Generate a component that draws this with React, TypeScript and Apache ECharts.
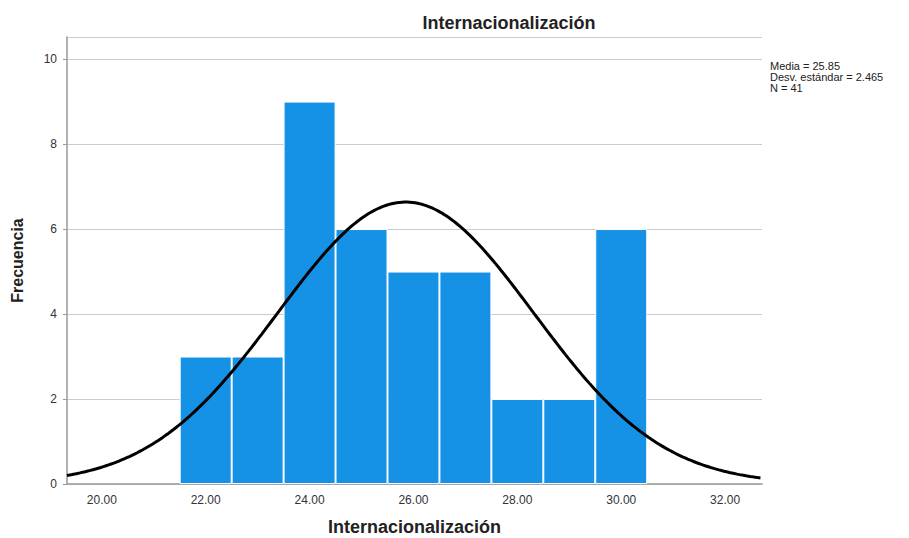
import React, { useEffect, useRef } from "react";
import * as echarts from "echarts";

const binCenters = [22, 23, 24, 25, 26, 27, 28, 29, 30];
const frequencies = [3, 3, 9, 6, 5, 5, 2, 2, 6];
const xTickValues = [20, 22, 24, 26, 28, 30, 32];
const MEAN = 25.85;
const SD = 2.465;
const N = 41;
const BIN_WIDTH = 1;
const X_MIN = 19.33;
const X_MAX = 32.71;

function normalCurve(): number[][] {
  const pts: number[][] = [];
  const k = (N * BIN_WIDTH) / (SD * Math.sqrt(2 * Math.PI));
  for (let x = X_MIN; x <= X_MAX + 1e-9; x += 0.05) {
    const z = (x - MEAN) / SD;
    pts.push([x, k * Math.exp(-0.5 * z * z)]);
  }
  return pts;
}

export default function App() {
  const ref = useRef<HTMLDivElement>(null);
  useEffect(() => {
    if (!ref.current) return;
    const chart = echarts.init(ref.current, null, { renderer: "svg" });
    chart.setOption({
      animation: false,
      backgroundColor: "#fff",
      title: {
        text: "Internacionalización",
        left: 504,
        top: 9,
        textAlign: "center",
        textStyle: { fontFamily: "Liberation Sans", fontSize: 18, fontWeight: "bold", color: "#222" },
      },
      grid: { left: 67, right: 147, top: 37, bottom: 54, containLabel: false, outerBoundsMode: "none" },
      xAxis: {
        type: "value",
        min: X_MIN,
        max: X_MAX,
        name: "Internacionalización",
        nameLocation: "middle",
        nameGap: 34,
        nameTextStyle: { fontFamily: "Liberation Sans", fontSize: 18, fontWeight: "bold", color: "#222" },
        axisLine: { show: true, lineStyle: { color: "#999", width: 1.5 } },
        axisTick: { show: false },
        splitLine: { show: false },
        axisLabel: {
          customValues: xTickValues,
          formatter: (v: number) => v.toFixed(2),
          fontFamily: "Liberation Sans",
          fontSize: 12,
          color: "#333",
          margin: 10,
        },
      },
      yAxis: {
        type: "value",
        min: 0,
        max: 10.52,
        interval: 2,
        name: "Frecuencia",
        nameLocation: "middle",
        nameGap: 42,
        nameTextStyle: { fontFamily: "Liberation Sans", fontSize: 16, fontWeight: "bold", color: "#222" },
        axisLine: { show: true, lineStyle: { color: "#999", width: 1.5 } },
        axisTick: { show: true, length: 4, lineStyle: { color: "#999" } },
        splitLine: { show: true, lineStyle: { color: "#ccc", width: 1 } },
        axisLabel: {
          showMaxLabel: false,
          fontFamily: "Liberation Sans",
          fontSize: 12,
          color: "#333",
          margin: 10,
        },
      },
      series: [
        {
          type: "bar",
          data: binCenters.map((c, i) => [c, frequencies[i]]),
          barWidth: 52,
          itemStyle: { color: "#1591E6", borderColor: "#fff", borderWidth: 1 },
        },
        {
          type: "line",
          data: normalCurve(),
          showSymbol: false,
          lineStyle: { color: "#000", width: 3 },
          z: 5,
        },
      ],
      graphic: [
        {
          type: "text",
          x: 770,
          y: 60,
          style: {
            text: "Media = 25.85\nDesv. estándar = 2.465\nN = 41",
            fontFamily: "Liberation Sans",
            fontSize: 11,
            lineHeight: 11,
            fill: "#222",
          },
        },
      ],
    });
    return () => chart.dispose();
  }, []);
  return <div ref={ref} style={{ width: 909, height: 538, position: "absolute", left: 0, top: 0 }} />;
}
